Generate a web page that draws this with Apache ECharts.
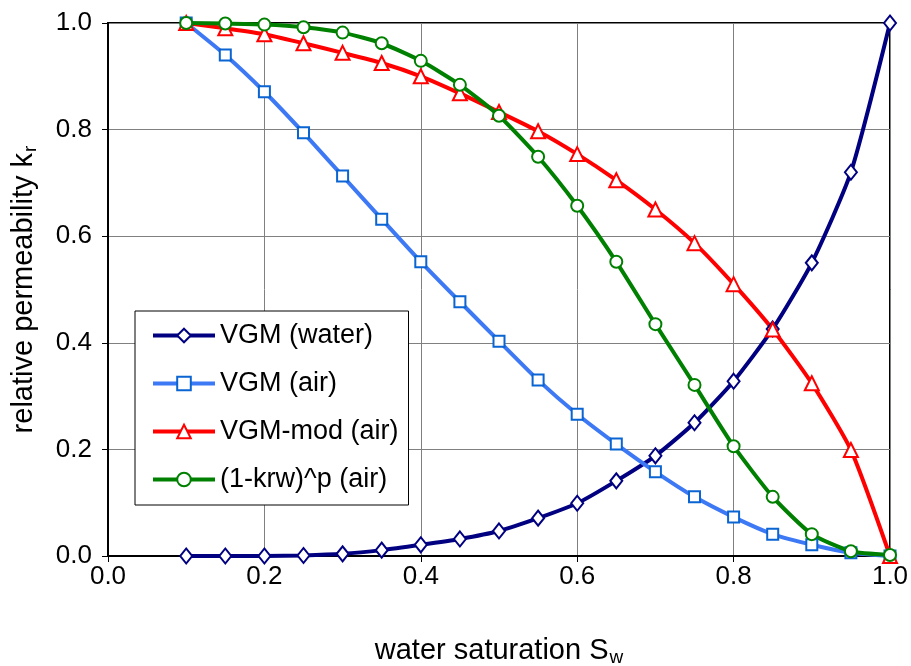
<!DOCTYPE html>
<html>
<head>
<meta charset="utf-8">
<script src="https://cdn.jsdelivr.net/npm/echarts@6/dist/echarts.min.js"></script>
<style>
  html, body { margin: 0; padding: 0; background: #fff; }
  #chart { width: 911px; height: 666px; }
</style>
</head>
<body>
<div id="chart"></div>
<script>
// Water saturation values (x) shared by all curves
const saturation = [0.10, 0.15, 0.20, 0.25, 0.30, 0.35, 0.40, 0.45, 0.50, 0.55,
                    0.60, 0.65, 0.70, 0.75, 0.80, 0.85, 0.90, 0.95, 1.00];

// Relative permeability curves
const vgmWater = [0.000, 0.000, 0.000, 0.001, 0.004, 0.011, 0.021, 0.032, 0.047, 0.071,
                  0.099, 0.141, 0.188, 0.250, 0.328, 0.426, 0.550, 0.720, 1.000];
const vgmAir = [1.000, 0.940, 0.871, 0.794, 0.713, 0.632, 0.552, 0.477, 0.403, 0.330,
                0.266, 0.210, 0.158, 0.111, 0.073, 0.041, 0.021, 0.006, 0.000];
const vgmModAir = [1.000, 0.990, 0.979, 0.962, 0.944, 0.925, 0.900, 0.868, 0.833, 0.797,
                   0.754, 0.705, 0.650, 0.587, 0.510, 0.425, 0.324, 0.199, 0.000];
const krwPowAir = [1.000, 0.999, 0.997, 0.992, 0.982, 0.962, 0.929, 0.884, 0.826, 0.749,
                   0.657, 0.552, 0.435, 0.321, 0.206, 0.111, 0.041, 0.009, 0.002];

const seriesNames = ['VGM (water)', 'VGM (air)', 'VGM-mod (air)', '(1-krw)^p (air)'];
const axisTicks = [0, 0.2, 0.4, 0.6, 0.8, 1.0];

const font = '"Liberation Sans", Arial, sans-serif';

function pairs(ys) {
  return saturation.map((x, i) => [x, ys[i]]);
}

function curve(name, ys, lineColor, markColor, symbol, size) {
  return {
    name: name,
    type: 'line',
    data: pairs(ys),
    smooth: 0.2,
    symbol: symbol,
    symbolSize: size,
    showAllSymbol: true,
    lineStyle: { color: lineColor, width: 4 },
    itemStyle: { color: '#ffffff', borderColor: markColor, borderWidth: 2 },
    emphasis: { disabled: true },
    animation: false
  };
}

const subRich = {
  a: { fontFamily: font, fontSize: 29, color: '#000000' },
  s: { fontFamily: font, fontSize: 19, color: '#000000', verticalAlign: 'bottom', padding: [13, 0, 0, 1] }
};

const chart = echarts.init(document.getElementById('chart'), null, { renderer: 'canvas' });

chart.setOption({
  backgroundColor: '#ffffff',
  animation: false,
  grid: { left: 108, top: 23, right: 21, bottom: 110, show: true,
          outerBoundsMode: 'none', containLabel: false,
          borderColor: '#000000', borderWidth: 2, backgroundColor: 'transparent' },
  legend: {
    data: seriesNames,
    left: 135, top: 311,
    orient: 'vertical',
    backgroundColor: '#ffffff',
    borderColor: '#000000',
    borderWidth: 1,
    padding: [11, 10, 12, 16],
    itemGap: 21,
    itemWidth: 62,
    itemHeight: 17,
    lineStyle: { width: 4 },
    textStyle: { fontFamily: font, fontSize: 27, color: '#000000' },
    selectedMode: false
  },
  xAxis: {
    type: 'value',
    min: 0, max: 1, interval: 0.2,
    name: '{a|water saturation S}{s|w}',
    nameLocation: 'middle',
    nameGap: 79,
    nameTextStyle: { rich: subRich },
    axisLine: { show: true, lineStyle: { color: '#000000', width: 2 } },
    axisTick: { show: true, inside: false, length: 6, lineStyle: { color: '#000000', width: 1 } },
    axisLabel: { fontFamily: font, fontSize: 26, color: '#000000', margin: 8,
                 formatter: v => v.toFixed(1) },
    splitLine: { show: true, lineStyle: { color: '#808080', width: 1 } }
  },
  yAxis: {
    type: 'value',
    min: 0, max: 1, interval: 0.2,
    name: '{a|relative permeability k}{s|r}',
    nameLocation: 'middle',
    nameGap: 68,
    nameRotate: 90,
    nameTextStyle: { rich: subRich },
    axisLine: { show: true, lineStyle: { color: '#000000', width: 2 } },
    axisTick: { show: true, inside: false, length: 6, lineStyle: { color: '#000000', width: 1 } },
    axisLabel: { fontFamily: font, fontSize: 26, color: '#000000', margin: 16,
                 formatter: v => v.toFixed(1),
                 customValues: axisTicks },
    splitLine: { show: true, lineStyle: { color: '#808080', width: 1 } }
  },
  series: [
    curve(seriesNames[0], vgmWater, '#000080', '#000080', 'diamond', [12, 15]),
    curve(seriesNames[1], vgmAir, '#3d78f5', '#0a64d2', 'rect', 11),
    curve(seriesNames[2], vgmModAir, '#ff0000', '#ff0000', 'triangle', 14),
    curve(seriesNames[3], krwPowAir, '#008000', '#008000', 'circle', 12)
  ]
});
</script>
</body>
</html>
